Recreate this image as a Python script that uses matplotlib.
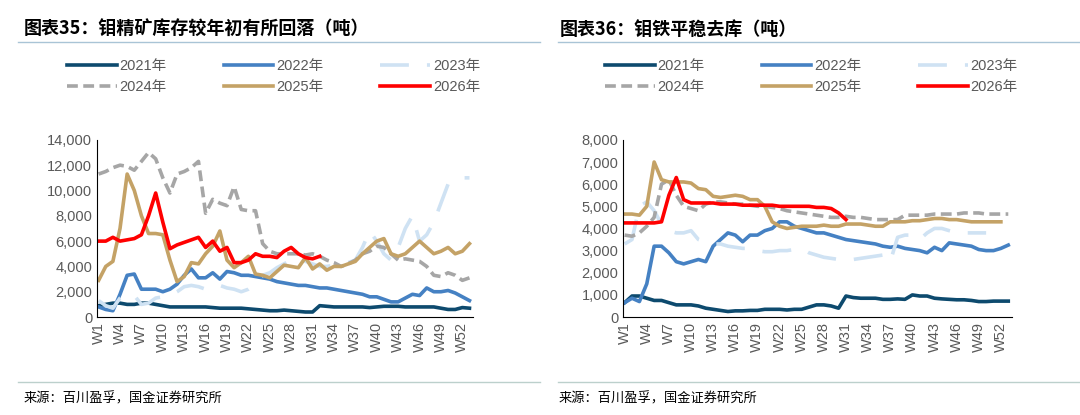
import matplotlib.pyplot as plt
from matplotlib.lines import Line2D

plt.rcParams['font.family'] = ['Liberation Sans', 'Noto Sans CJK SC', 'DejaVu Sans']

YEARS = ['2021年', '2022年', '2023年', '2024年', '2025年', '2026年']
WEEK_TICKS = [f'W{w}' for w in range(1, 53, 3)]

# 钼精矿库存 (吨)
conc_2021 = [900, 1000, 1100, 1100, 1000, 1000, 1100, 1100, 1000, 900,
             800, 800, 800, 800, 800, 800, 750, 700, 700, 700,
             700, 650, 600, 550, 500, 500, 550, 500, 450, 400,
             400, 900, 850, 800, 800, 800, 800, 800, 750, 800,
             850, 850, 850, 800, 800, 800, 800, 800, 700, 600,
             600, 750, 700]
conc_2022 = [800, 600, 500, 1800, 3300, 3400, 2200, 2200, 2200, 2000,
             2200, 2600, 3300, 3800, 3100, 3100, 3500, 3000, 3600, 3500,
             3300, 3300, 3200, 3100, 3000, 2800, 2700, 2600, 2500, 2500,
             2400, 2300, 2300, 2200, 2100, 2000, 1900, 1800, 1600, 1600,
             1400, 1200, 1200, 1500, 1800, 1700, 2300, 2000, 2000, 2100,
             1900, 1600, 1300]
conc_2023 = [1300, 900, 700, 1500, 1800, 1700, 1000, 1100, 1500, 1600,
             1700, 2000, 2400, 2500, 2400, 2200, 2300, 2500, 2300, 2200,
             2000, 2200, 2600, 3300, 3500, 3900, 4200, 4500, 4700, 4400,
             4200, 4000, 4000, 4100, 4200, 4300, 4500, 5500, 6800, 6000,
             5000, 4500, 5500, 7000, 8000, 6000, 6500, 7500, 9000, 10500,
             10800, 11000, 11000]
conc_2024 = [11300, 11500, 11800, 12000, 11900, 11600, 12300, 13000, 12500, 11000,
             9800, 11300, 11500, 11800, 12300, 8200, 9300, 9000, 8800, 10300,
             8500, 8400, 8400, 5800, 5200, 5000, 5000, 5000, 5000, 4900,
             5000, 4800, 4500, 4300, 4000, 4200, 4500, 5000, 5200, 5600,
             5500, 5000, 4500, 4600, 4500, 4400, 4000, 3300, 3200, 3500,
             3300, 2900, 3100]
conc_2025 = [2900, 4000, 4400, 7000, 11300, 10000, 8000, 6600, 6600, 6500,
             4500, 2800, 3200, 4300, 4200, 5000, 5600, 6800, 4500, 3900,
             4300, 4800, 3400, 3300, 3100, 3600, 4100, 4000, 3900, 4700,
             3800, 4200, 3700, 4000, 4000, 4200, 4400, 5000, 5500, 6000,
             6200, 5000, 4800, 5000, 5500, 6000, 5500, 5000, 5200, 5500,
             5000, 5200, 5800]
conc_2026 = [6000, 6000, 6300, 6000, 6100, 6200, 6500, 8000, 9800, 7500,
             5400, 5700, 5900, 6100, 6300, 5500, 6000, 5200, 5500, 4300,
             4300, 4500, 5000, 4800, 4800, 4700, 5200, 5500, 5000, 4700,
             4600, 4800]

# 钼铁库存 (吨)
feMo_2021 = [650, 950, 950, 850, 750, 750, 650, 550, 550, 550,
             500, 400, 350, 300, 250, 280, 280, 300, 300, 350,
             350, 350, 320, 350, 350, 450, 550, 550, 500, 400,
             950, 880, 850, 850, 850, 800, 800, 820, 800, 1000,
             950, 950, 850, 820, 800, 780, 780, 750, 700, 700,
             720, 720, 720]
feMo_2022 = [650, 850, 700, 1500, 3200, 3200, 2900, 2500, 2400, 2500,
             2600, 2500, 3200, 3500, 3800, 3700, 3400, 3700, 3700, 3900,
             4000, 4300, 4300, 4100, 4000, 3900, 3800, 3800, 3700, 3600,
             3500, 3450, 3400, 3350, 3300, 3200, 3150, 3200, 3100, 3050,
             3000, 2900, 3150, 3000, 3350, 3300, 3250, 3200, 3050, 3000,
             3000, 3100, 3250]
feMo_2023 = [3300, 3500, 5000, 5200, 4800, 4200, 3900, 3800, 3800, 3900,
             3500, 3400, 3300, 3300, 3200, 3150, 3100, 3100, 3000, 2950,
             2950, 3000, 3000, 3050, 3100, 2900, 2800, 2700, 2650, 2600,
             2550, 2600, 2650, 2700, 2750, 2800, 2500, 3600, 3700, 3700,
             3500, 3800, 4000, 4000, 3900, 3800, 3800, 3800, 3800, 3800]
feMo_2024 = [3700, 3650, 3800, 4100, 4500, 6000, 6200, 5500, 5000, 4900,
             4800, 5100, 5200, 5200, 5150, 5100, 5100, 5050, 5000, 5000,
             4950, 4900, 4800, 4750, 4700, 4650, 4600, 4550, 4500, 4500,
             4550, 4500, 4500, 4450, 4400, 4400, 4400, 4400, 4600, 4600,
             4600, 4600, 4650, 4650, 4650, 4650, 4700, 4700, 4700, 4650,
             4650, 4650, 4650]
feMo_2025 = [4650, 4650, 4600, 5000, 7000, 6200, 6100, 6100, 6100, 6050,
             5800, 5750, 5450, 5400, 5450, 5500, 5450, 5300, 5300, 5000,
             4300, 4100, 4000, 4050, 4100, 4100, 4100, 4150, 4100, 4100,
             4200, 4200, 4200, 4150, 4100, 4100, 4300, 4300, 4300, 4350,
             4350, 4400, 4450, 4450, 4400, 4400, 4350, 4300, 4300, 4300,
             4300, 4300]
feMo_2026 = [4250, 4250, 4250, 4250, 4250, 4300, 5500, 6300, 5300, 5150,
             5150, 5150, 5150, 5100, 5100, 5100, 5050, 5050, 5050, 5050,
             5050, 5000, 5000, 5000, 5000, 5000, 4950, 4950, 4900, 4700,
             4400]

STYLES = [
    dict(color='#0d4a6e', ls='-'),
    dict(color='#4581c3', ls='-'),
    dict(color='#cfe2f3', ls=(0, (8, 5))),
    dict(color='#a6a6a6', ls=(0, (3, 1.5))),
    dict(color='#c4a266', ls='-'),
    dict(color='#ff0000', ls='-'),
]
GREY = '#595959'
CJK = ['Noto Sans CJK SC', 'DejaVu Sans']

fig = plt.figure(figsize=(10.8, 4.15), dpi=100)


def draw_panel(rect, series, ymax, ystep, title, legend_x, title_x):
    ax = fig.add_axes(rect)
    for vals, st in zip(series, STYLES):
        ax.plot(range(1, len(vals) + 1), vals, lw=2.6, **st)
    ax.set_xlim(0.8, 53.5)
    ax.set_ylim(0, ymax)
    ax.set_yticks(range(0, ymax + 1, ystep))
    ax.set_yticklabels([f'{v:,}' for v in range(0, ymax + 1, ystep)])
    ax.set_xticks(range(1, 53, 3))
    ax.set_xticklabels(WEEK_TICKS, rotation=90)
    ax.tick_params(colors=GREY, labelsize=10.5, length=0)
    for s in ('top', 'right'):
        ax.spines[s].set_visible(False)
    for s in ('left', 'bottom'):
        ax.spines[s].set_color('black')
        ax.spines[s].set_linewidth(0.8)
    handles = [Line2D([], [], lw=2.6, **st) for st in STYLES]
    # matplotlib fills legend columns first; reorder so rows read 2021-2023 / 2024-2026
    order = [0, 3, 1, 4, 2, 5]
    fig.legend([handles[i] for i in order], [YEARS[i] for i in order],
               loc='upper left', ncol=3, frameon=False,
               bbox_to_anchor=(legend_x, 0.89), fontsize=10.5, labelcolor=GREY,
               handlelength=3.4, handletextpad=0.2, columnspacing=3.9,
               labelspacing=0.5)
    fig.text(title_x, 0.93, title, fontsize=13, fontweight='bold',
             style='italic', family=CJK, va='center')
    return ax


draw_panel([0.09, 0.236, 0.348, 0.427],
           [conc_2021, conc_2022, conc_2023, conc_2024, conc_2025, conc_2026],
           14000, 2000, '图表35：钼精矿库存较年初有所回落（吨）', 0.05, 0.022)
draw_panel([0.577, 0.236, 0.36, 0.427],
           [feMo_2021, feMo_2022, feMo_2023, feMo_2024, feMo_2025, feMo_2026],
           8000, 1000, '图表36：钼铁平稳去库（吨）', 0.548, 0.518)

for x0, x1 in [(0.017, 0.5), (0.517, 1.0)]:
    fig.add_artist(Line2D([x0, x1], [0.898, 0.898], color='#a9c4d6', lw=1))
    fig.add_artist(Line2D([x0, x1], [0.08, 0.08], color='#bcd0cc', lw=1))
fig.text(0.022, 0.04, '来源：百川盈孚，国金证券研究所', fontsize=9.5,
         family=CJK, va='center')
fig.text(0.517, 0.04, '来源：百川盈孚，国金证券研究所', fontsize=9.5,
         family=CJK, va='center')

fig.savefig('out.png', dpi=100)
